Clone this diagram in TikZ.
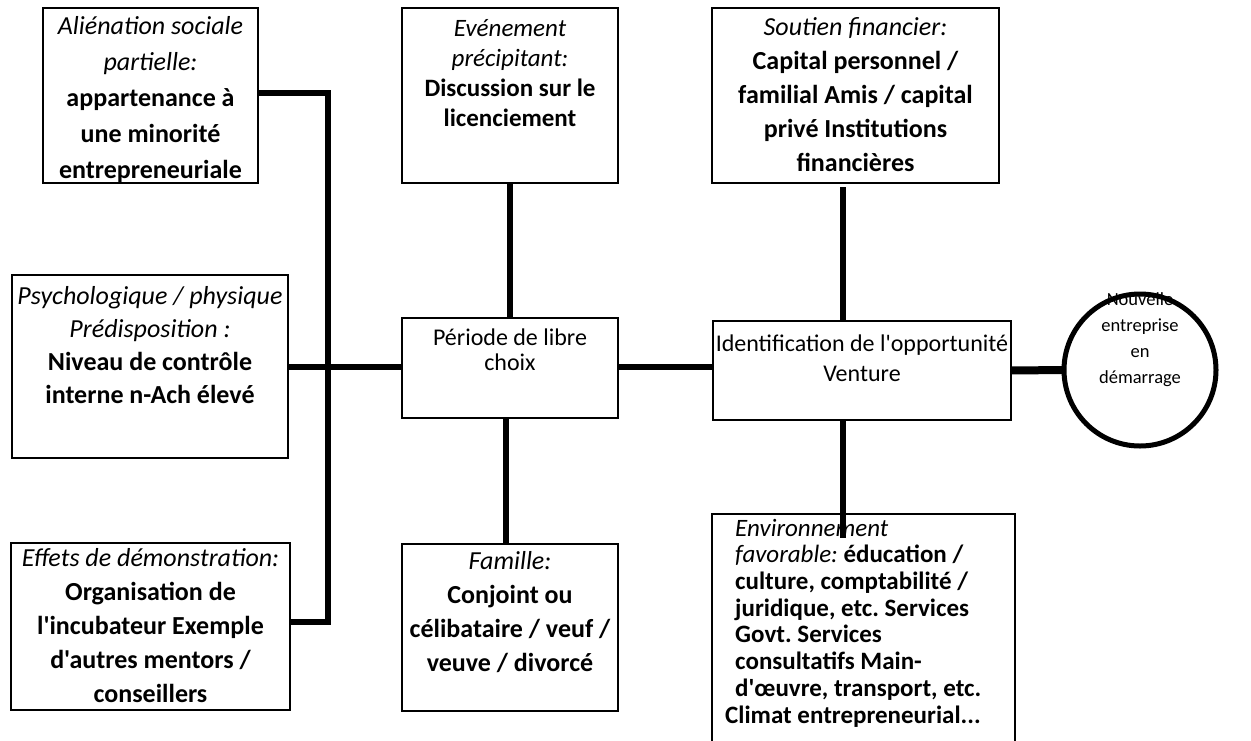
\documentclass[tikz,border=0pt]{standalone}
\usepackage{fontspec}
\setmainfont{Carlito}[Ligatures=TeXOff]
\frenchspacing
\begin{document}
\begin{tikzpicture}[x=1pt,y=-1pt,
  box/.style={draw, line width=1.5pt, inner sep=0pt, outer sep=0pt},
  txt/.style={inner sep=0pt, align=center},
  conn/.style={line width=6pt},
]
\useasboundingbox (0,0) rectangle (1251,740);
% boxes
\node[box, minimum width=215pt, minimum height=175pt] (A) at (150.5,95.5) {};
\node[box, minimum width=276pt, minimum height=183pt] (B) at (150,366.5) {};
\node[box, minimum width=279pt, minimum height=167pt] (C) at (150.5,626.5) {};
\node[box, minimum width=216pt, minimum height=175pt] (E) at (510,95.5) {};
\node[box, minimum width=216pt, minimum height=100pt] (P) at (510,368) {};
\node[box, minimum width=216pt, minimum height=167pt] (F) at (510,627.5) {};
\node[box, minimum width=287pt, minimum height=175pt] (S) at (855.5,95.5) {};
\node[box, minimum width=298pt, minimum height=99pt] (I) at (862,370.5) {};
\node[box, minimum width=303pt, minimum height=246pt] (Env) at (863.5,637) {};
% texts
\node[txt, font=\fontsize{26}{36}\selectfont] (Atxt) at (150.5,100)
  {\itshape Aliénation sociale\\ \itshape partielle:\\ \bfseries appartenance à\\ \bfseries une minorité\\ \bfseries entrepreneuriale};
\node[txt, font=\fontsize{26}{33}\selectfont] (Btxt) at (150,345)
  {\itshape Psychologique / physique\\ \itshape Prédisposition :\\ \bfseries Niveau de contrôle\\ \bfseries interne n-Ach élevé};
\node[txt, font=\fontsize{26}{34}\selectfont] (Ctxt) at (150.5,625.5)
  {\itshape Effets de démonstration:\\ \bfseries Organisation de\\ \bfseries l'incubateur Exemple\\ \bfseries d'autres mentors /\\ \bfseries conseillers};
\node[txt, font=\fontsize{25}{30}\selectfont] (Etxt) at (510,73)
  {\itshape Evénement\\ \itshape précipitant:\\ \bfseries Discussion sur le\\ \bfseries licenciement};
\node[txt, font=\fontsize{24}{25}\selectfont] (Ptxt) at (510,350)
  {Période de libre\\ choix};
\node[txt, font=\fontsize{26}{34}\selectfont] (Ftxt) at (510,612.5)
  {\itshape Famille:\\ \bfseries Conjoint ou\\ \bfseries célibataire / veuf /\\ \bfseries veuve / divorcé};
\node[txt, font=\fontsize{26}{34}\selectfont] (Stxt) at (855.5,95)
  {\itshape Soutien financier:\\ \bfseries Capital personnel /\\ \bfseries familial Amis / capital\\ \bfseries privé Institutions\\ \bfseries financières};
\node[txt, font=\fontsize{24}{30}\selectfont] (Itxt) at (862,358)
  {Identification de l'opportunité\\ Venture};
\node[txt, align=left, anchor=west, font=\fontsize{25}{26.7}\selectfont] (Envtxt) at (735,623)
  {\itshape Environnement\\ \itshape favorable: \upshape\bfseries éducation /\\ \bfseries culture, comptabilité /\\ \bfseries juridique, etc. Services\\ \bfseries Govt. Services\\ \bfseries consultatifs Main-\\ \bfseries d'œuvre, transport, etc.\\ \hspace*{-10pt}\bfseries Climat entrepreneurial...};
\node[txt, font=\fontsize{18.5}{26}\selectfont] (Ntxt) at (1140,340)
  {Nouvelle\\ entreprise\\ en\\ démarrage};
\node[draw, circle, line width=5pt, minimum size=152pt, inner sep=0pt, outer sep=0pt] (N) at (1140,370) {};
% connectors
\coordinate (jt) at (328,93);
\coordinate (jb) at (328,622);
\draw[conn] (A.east |- jt) -- (jt) -- (jb) -- (C.east |- jb);
\draw[conn] (B.east) -- (B.east -| P.west);
\draw[conn] (E.south) -- (P.north);
\draw[conn] ([xshift=-4pt]P.south) -- ([xshift=-4pt]P.south |- F.north);
\draw[conn] ([yshift=1pt]P.east) -- ([yshift=1pt]P.east -| I.west);
\coordinate (sI) at (843,187);
\draw[conn] (sI) -- (I.north -| sI);
\coordinate (envIn) at (843,538);
\draw[conn] (I.south -| envIn) -- (envIn);
\draw[line width=8pt] (I.east) -- (N.west);
\end{tikzpicture}
\end{document}
